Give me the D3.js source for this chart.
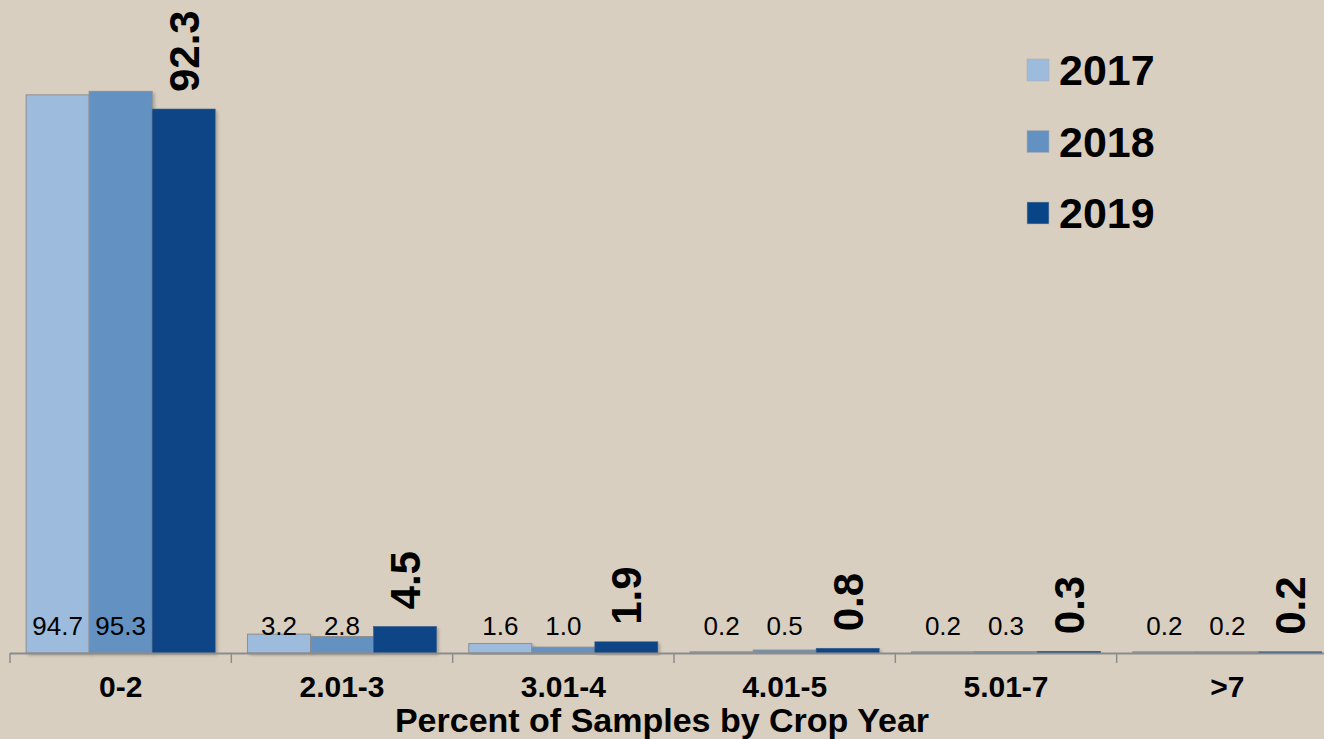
<!DOCTYPE html>
<html>
<head>
<meta charset="utf-8">
<script src="https://cdn.jsdelivr.net/npm/d3@7"></script>
<style>
  html, body { margin: 0; padding: 0; background: #D9CFC1; }
  svg { display: block; font-family: "Liberation Sans", Arial, sans-serif; }
</style>
</head>
<body>
<svg id="chart" width="1324" height="739"></svg>
<script>
const categories = ["0-2", "2.01-3", "3.01-4", "4.01-5", "5.01-7", ">7"];
const years = ["2017", "2018", "2019"];
const values2017 = [94.7, 3.2, 1.6, 0.2, 0.2, 0.2];
const values2018 = [95.3, 2.8, 1.0, 0.5, 0.3, 0.2];
const values2019 = [92.3, 4.5, 1.9, 0.8, 0.3, 0.2];
const colors = ["#9DBBDD", "#6391C2", "#084586"];
const xTitle = "Percent of Samples by Crop Year";

const series = [values2017, values2018, values2019];
const data = categories.map((c, i) => ({
  cat: c,
  vals: years.map((y, j) => ({ year: y, idx: j, v: series[j][i] }))
}));

const W = 1324, H = 739;
const baseY = 653;
const svg = d3.select("#chart");

svg.append("rect").attr("width", W).attr("height", H).attr("fill", "#D9CFC1");

const defs = svg.append("defs");
const f = defs.append("filter").attr("id", "sh").attr("x", "-10%").attr("y", "-10%").attr("width", "130%").attr("height", "130%");
f.append("feDropShadow").attr("dx", 2).attr("dy", 2).attr("stdDeviation", 1.5)
  .attr("flood-color", "#000").attr("flood-opacity", 0.22);

const x0 = d3.scaleBand().domain(categories).range([10, 1338]).paddingInner(0).paddingOuter(0);
const x1 = d3.scaleBand().domain(years).range([0, x0.bandwidth()]).paddingInner(0).paddingOuter(0.256);
const y = d3.scaleLinear().domain([0, 110.8]).range([baseY, 0]);

// bars
const groups = svg.append("g").selectAll("g").data(data).join("g")
  .attr("transform", d => `translate(${x0(d.cat)},0)`);

groups.selectAll("rect").data(d => d.vals).join("rect")
  .attr("x", d => x1(d.year))
  .attr("y", d => y(d.v))
  .attr("width", x1.bandwidth())
  .attr("height", d => baseY - y(d.v))
  .attr("fill", d => colors[d.idx])
  .attr("stroke", d => d.idx === 2 ? "#3a5f8a" : "#8f8f8f")
  .attr("stroke-width", d => d.idx === 2 ? 0.6 : 1)
  .attr("filter", "url(#sh)");

// axis line and ticks
const axis = svg.append("g");
axis.append("line").attr("x1", 10).attr("x2", W).attr("y1", baseY + 0.5).attr("y2", baseY + 0.5)
  .attr("stroke", "#8c8c8c").attr("stroke-width", 2);
const tickXs = categories.map(c => x0(c));
axis.selectAll("line.tick").data(tickXs).join("line").attr("class", "tick")
  .attr("x1", d => d).attr("x2", d => d).attr("y1", baseY).attr("y2", baseY + 10)
  .attr("stroke", "#8c8c8c").attr("stroke-width", 1.5);

// category labels
svg.append("g").selectAll("text").data(categories).join("text")
  .attr("x", d => x0(d) + x0.bandwidth() / 2)
  .attr("y", 697)
  .attr("text-anchor", "middle")
  .attr("font-size", 30).attr("font-weight", "bold").attr("fill", "#000")
  .text(d => d);

// axis title
svg.append("text").attr("x", 662).attr("y", 732).attr("text-anchor", "middle")
  .attr("font-size", 34).attr("font-weight", "bold").attr("fill", "#000").text(xTitle);

// value labels 2017/2018 (inside base)
groups.selectAll("text.lbl").data(d => d.vals.filter(v => v.idx < 2)).join("text")
  .attr("class", "lbl")
  .attr("x", d => x1(d.year) + x1.bandwidth() / 2)
  .attr("y", baseY - 18)
  .attr("text-anchor", "middle")
  .attr("font-size", 26).attr("fill", "#000")
  .text(d => d.v.toFixed(1));

// value labels 2019 (rotated, bold)
groups.selectAll("text.lbl19").data(d => d.vals.filter(v => v.idx === 2)).join("text")
  .attr("class", "lbl19")
  .attr("transform", d => `translate(${x1(d.year) + x1.bandwidth() / 2},${y(d.v) - 17}) rotate(-90)`)
  .attr("dy", "0.36em")
  .attr("text-anchor", "start")
  .attr("font-size", 42).attr("font-weight", "bold").attr("fill", "#000")
  .text(d => d.v.toFixed(1));

// legend
const leg = svg.append("g").selectAll("g").data(years).join("g")
  .attr("transform", (d, i) => `translate(1027,${59 + i * 71.5})`);
leg.append("rect").attr("width", 22).attr("height", 22)
  .attr("fill", (d, i) => colors[i]).attr("stroke", "#b0b0b0").attr("stroke-width", 0.6);
leg.append("text").attr("x", 32).attr("y", 26)
  .attr("font-size", 43).attr("font-weight", "bold").attr("fill", "#000").text(d => d);
</script>
</body>
</html>
